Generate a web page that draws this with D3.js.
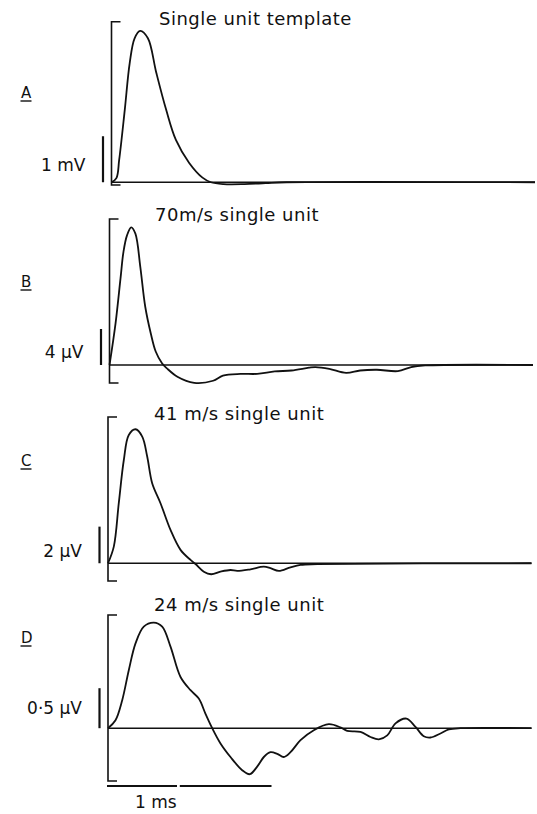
<!DOCTYPE html>
<html>
<head>
<meta charset="utf-8">
<script src="https://cdn.jsdelivr.net/npm/d3@7.9.0/dist/d3.min.js"></script>
<style>
  body { margin: 0; background: #fff; }
  svg { display: block; }
  text { font-family: "DejaVu Sans", sans-serif; fill: #111; }
</style>
</head>
<body>
<svg width="537" height="814"></svg>
<script>
// ---- data ----
const panelLabels = ['A', 'B', 'C', 'D'];
const panelTitles = ['Single unit template', '70m/s single unit', '41 m/s single unit', '24 m/s single unit'];
const scaleBarValues = [1, 4, 2, 0.5];
const scaleBarLabels = ['1 mV', '4 \u00b5V', '2 \u00b5V', '0\u00b75 \u00b5V'];
const bracketRanges = [[-0.06, 3.49], [-2.0, 16.22], [-0.97, 7.99], [-0.66, 1.415]];
const timeEnd = 6.05; // ms

// A: mV
const timeA = [0, 0.07, 0.11, 0.19, 0.26, 0.33, 0.41, 0.52, 0.64, 0.78, 0.92, 1.11, 1.30, 1.42, 1.6, 1.9, 2.2, 2.5, 6.05];
const valueA = [0, 0.09, 0.49, 1.58, 2.59, 3.13, 3.29, 3.13, 2.38, 1.58, 0.92, 0.42, 0.10, 0.0, -0.04, -0.04, -0.02, 0, 0];

// B: uV
const timeB = [0, 0.086, 0.157, 0.20, 0.25, 0.31, 0.37, 0.44, 0.51, 0.59, 0.66, 0.75, 0.82, 0.97, 1.21, 1.48, 1.62, 1.87, 2.11, 2.36, 2.6, 2.85, 2.94, 3.14, 3.38, 3.58, 3.82, 4.12, 4.31, 4.51, 6.05];
const valueB = [0, 4.6, 9.6, 12.6, 14.4, 15.3, 14.6, 10.9, 6.5, 3.5, 1.5, 0.2, -0.37, -1.3, -1.98, -1.75, -1.18, -0.99, -0.99, -0.72, -0.61, -0.30, -0.23, -0.42, -0.87, -0.61, -0.53, -0.68, -0.23, -0.05, 0];

// C: uV
const timeC = [0, 0.083, 0.154, 0.226, 0.297, 0.393, 0.489, 0.56, 0.631, 0.75, 0.893, 1.036, 1.179, 1.25, 1.369, 1.474, 1.607, 1.75, 1.846, 2.036, 2.226, 2.321, 2.44, 2.607, 2.75, 2.99, 6.05];
const valueC = [0, 0.91, 3.28, 5.64, 7.01, 7.32, 6.92, 5.83, 4.37, 3.28, 1.82, 0.73, 0.18, -0.04, -0.46, -0.60, -0.46, -0.37, -0.42, -0.33, -0.19, -0.27, -0.42, -0.22, -0.09, -0.05, 0];

// D: uV
const timeD = [0, 0.107, 0.203, 0.297, 0.393, 0.511, 0.654, 0.774, 0.893, 1.036, 1.179, 1.297, 1.393, 1.489, 1.607, 1.75, 1.917, 2.026, 2.131, 2.226, 2.321, 2.417, 2.511, 2.607, 2.75, 2.94, 3.154, 3.321, 3.417, 3.607, 3.75, 3.869, 3.989, 4.107, 4.264, 4.393, 4.511, 4.607, 4.75, 4.869, 5.036, 6.05];
const valueD = [0, 0.10, 0.35, 0.725, 1.06, 1.27, 1.32, 1.27, 1.02, 0.64, 0.475, 0.37, 0.18, 0.0, -0.19, -0.36, -0.525, -0.575, -0.48, -0.36, -0.30, -0.32, -0.36, -0.30, -0.15, -0.025, 0.05, 0.01, -0.034, -0.046, -0.11, -0.14, -0.09, 0.06, 0.12, 0.016, -0.10, -0.116, -0.066, -0.016, 0, 0];

const timeBarMs = [[0, 1], [1.04, 2.35]];
const timeBarLabel = '1 ms';

const series = [
  { t: timeA, v: valueA },
  { t: timeB, v: valueB },
  { t: timeC, v: valueC },
  { t: timeD, v: valueD },
];

// ---- layout ----
const pxPerMs = 70;
const layout = [
  { x0: 111.5, top: 21.7, bottom: 185, titleX: 159, titleY: 25, labelY: 98, barLabelY: 171 },
  { x0: 109.5, top: 219, bottom: 383, titleX: 155, titleY: 221, labelY: 287, barLabelY: 358 },
  { x0: 108, top: 417, bottom: 581, titleX: 154, titleY: 420, labelY: 466, barLabelY: 557 },
  { x0: 108, top: 615, bottom: 781, titleX: 154, titleY: 611, labelY: 643, barLabelY: 714 },
];

const svg = d3.select('svg');
const ink = '#111';

series.forEach((s, i) => {
  const L = layout[i];
  const x = d3.scaleLinear().domain([0, timeEnd]).range([L.x0, L.x0 + timeEnd * pxPerMs]);
  const y = d3.scaleLinear().domain(bracketRanges[i]).range([L.bottom, L.top]);
  const g = svg.append('g');

  // bracket
  g.append('path')
    .attr('d', `M${L.x0 + 9},${y(bracketRanges[i][1])}H${L.x0}V${y(bracketRanges[i][0])}H${L.x0 + 9}`)
    .attr('fill', 'none').attr('stroke', ink).attr('stroke-width', 1.6);

  // zero line
  g.append('line')
    .attr('x1', x(0)).attr('x2', x(timeEnd))
    .attr('y1', y(0)).attr('y2', y(0))
    .attr('stroke', ink).attr('stroke-width', 1.5);

  // waveform
  const pts = s.t.map((t, k) => [t, s.v[k]]);
  const line = d3.line().x(d => x(d[0])).y(d => y(d[1])).curve(d3.curveCatmullRom.alpha(0.5));
  g.append('path')
    .attr('d', line(pts))
    .attr('fill', 'none').attr('stroke', ink).attr('stroke-width', 1.8)
    .attr('stroke-linejoin', 'round');

  // amplitude scale bar
  g.append('line')
    .attr('x1', L.x0 - 8.5).attr('x2', L.x0 - 8.5)
    .attr('y1', y(0)).attr('y2', y(scaleBarValues[i]))
    .attr('stroke', ink).attr('stroke-width', 2.2);
  g.append('text')
    .attr('x', L.x0 - 26).attr('y', L.barLabelY)
    .attr('text-anchor', 'end')
    .attr('font-size', 17)
    .text(scaleBarLabels[i]);

  // title
  g.append('text')
    .attr('x', L.titleX).attr('y', L.titleY)
    .attr('font-size', 18).attr('letter-spacing', 0.5)
    .text(panelTitles[i]);

  // panel letter, underlined
  g.append('text')
    .attr('x', 21).attr('y', L.labelY)
    .attr('font-size', 15)
    .text(panelLabels[i]);
  g.append('line')
    .attr('x1', 20.5).attr('x2', 31.5)
    .attr('y1', L.labelY + 3).attr('y2', L.labelY + 3)
    .attr('stroke', ink).attr('stroke-width', 1.4);
});

// time scale bar under D
const xD = d3.scaleLinear().domain([0, timeEnd]).range([layout[3].x0 - 1, layout[3].x0 - 1 + timeEnd * pxPerMs]);
svg.selectAll('line.tbar')
  .data(timeBarMs)
  .enter()
  .append('line')
  .attr('class', 'tbar')
  .attr('x1', d => xD(d[0])).attr('x2', d => xD(d[1]))
  .attr('y1', 786).attr('y2', 786)
  .attr('stroke', ink).attr('stroke-width', 2);
svg.append('text')
  .attr('x', 135).attr('y', 808)
  .attr('font-size', 17)
  .text(timeBarLabel);
</script>
</body>
</html>
